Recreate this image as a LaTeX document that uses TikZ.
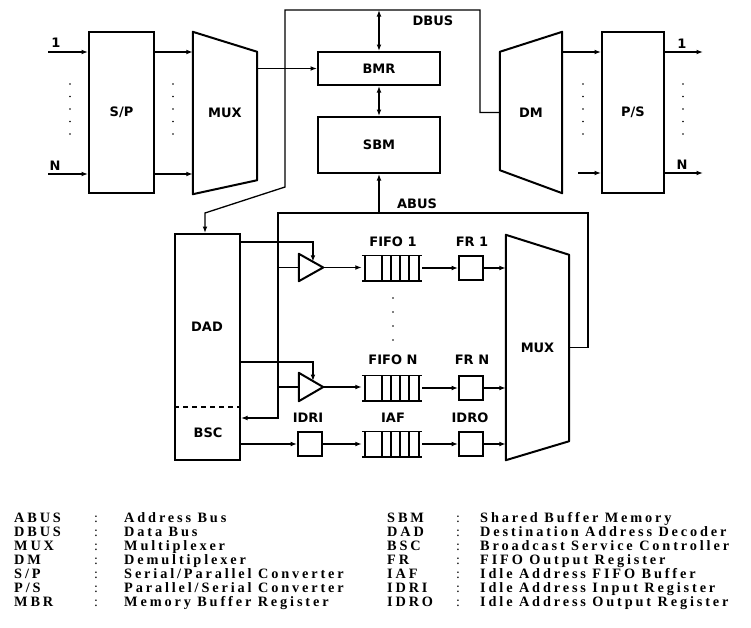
\documentclass[tikz,border=0pt]{standalone}
\usepackage{fontspec}
\setmainfont{DejaVu Sans}
\newfontfamily\lgfont[LetterSpace=20]{Liberation Serif}
\usetikzlibrary{arrows.meta,calc}

\tikzset{
  box/.style={draw, line width=2pt, inner sep=0pt, font=\fontsize{13}{13}\selectfont\bfseries},
  ghost/.style={inner sep=0pt, font=\fontsize{13}{13}\selectfont\bfseries},
  reg/.style={draw, line width=1.8pt, inner sep=0pt, minimum width=24pt, minimum height=24pt},
  lbl/.style={font=\fontsize{13}{13}\selectfont\bfseries, inner sep=1pt},
  outline/.style={line width=2pt, line join=round},
  conn/.style={line width=1.3pt},
  arr/.style={conn, -{Latex[length=6.5pt,width=4.8pt]}},
  darr/.style={conn, {Latex[length=6.5pt,width=4.8pt]}-{Latex[length=6.5pt,width=4.8pt]}},
  legend/.style={font=\lgfont\fontsize{14.3}{14.3}\selectfont\bfseries, anchor=base west, inner sep=0pt},
  colon/.style={font=\lgfont\fontsize{14}{14}\selectfont, anchor=base, inner sep=0pt},
  dotmark/.style={circle, fill, inner sep=0pt, minimum size=1.8pt},
}

\newcommand\fifodraw[1]{%
  \draw[line width=1.6pt] (#1.north west) -- (#1.north east) (#1.south west) -- (#1.south east);
  \foreach \dx in {3,20,29,38,47,57}{\draw[line width=1.6pt] ($(#1.north west)+(\dx,0)$) -- ($(#1.south west)+(\dx,0)$);}
}

\begin{document}
\begin{tikzpicture}[x=1pt,y=-1pt]
\useasboundingbox (0,0) rectangle (751,627);

% ---------- top section ----------
\node[box, minimum width=65pt, minimum height=161pt] (sp) at (121.5,112.5) {S/P};
\node[ghost, minimum width=64pt, minimum height=162pt] (mux1) at (225,113) {MUX};
\draw[outline] (mux1.north west) -- ($(mux1.north east)+(0,20)$) -- ($(mux1.south east)+(0,-14)$) -- (mux1.south west) -- cycle;
\node[box, minimum width=122pt, minimum height=33pt] (bmr) at (379,68.5) {BMR};
\node[box, minimum width=122pt, minimum height=56pt] (sbm) at (379,145) {SBM};
\node[ghost, minimum width=62pt, minimum height=161pt] (dm) at (531,112.5) {DM};
\draw[outline] ($(dm.north west)+(0,20)$) -- (dm.north east) -- (dm.south east) -- ($(dm.south west)+(0,-23)$) -- cycle;
\node[box, minimum width=62pt, minimum height=161pt] (ps) at (633,112.5) {P/S};

% inputs
\coordinate (in1) at (48,52);
\coordinate (inN) at (48,174);
\draw[arr] (in1) -- (sp.west |- in1);
\draw[arr] (inN) -- (sp.west |- inN);
\node[lbl] (lin1) at (56,43) {1};
\node[lbl] (linN) at (55,166) {N};
\draw[arr] (sp.east |- in1) -- (mux1.west |- in1);
\draw[arr] (sp.east |- inN) -- (mux1.west |- inN);
\draw[arr] (mux1.east |- bmr.west) -- (bmr.west);

% outputs
\coordinate (o1) at (703,52);
\coordinate (oN) at (703,173);
\coordinate (gapN) at (578,173);
\draw[arr] (dm.east |- o1) -- (ps.west |- o1);
\draw[arr] (gapN) -- (ps.west |- oN);
\draw[arr] (ps.east |- o1) -- (o1);
\draw[arr] (ps.east |- oN) -- (oN);
\node[lbl] (lout1) at (682,44) {1};
\node[lbl] (loutN) at (682,165) {N};

% dots
\foreach \yy [count=\k] in {84,96.5,109,121.5,134}{
  \node[dotmark] (da\k) at (70,\yy) {};
  \node[dotmark] (db\k) at (173,\yy) {};
  \node[dotmark] (dc\k) at (583,\yy) {};
  \node[dotmark] (dd\k) at (683,\yy) {};
}

% ---------- lower section ----------
\node[box, minimum width=65pt, minimum height=226pt] (dad) at (207.5,347) {};
\node[lbl] (dadlbl) at (207,327) {DAD};
\node[lbl] (bsclbl) at (208,433) {BSC};
\draw[line width=2pt, dash pattern=on 5pt off 4pt] (dad.west |- 0,407) -- (dad.east |- 0,407);

\node[ghost, minimum width=24pt, minimum height=27pt] (buf1) at (311,267.5) {};
\draw[outline] (buf1.north west) -- (buf1.east) -- (buf1.south west) -- cycle;
\node[ghost, minimum width=24pt, minimum height=28pt] (bufN) at (311,387) {};
\draw[outline] (bufN.north west) -- (bufN.east) -- (bufN.south west) -- cycle;

\node[ghost, minimum width=60pt, minimum height=25pt] (fifo1) at (392,268) {};
\node[ghost, minimum width=60pt, minimum height=25pt] (fifoN) at (392,388) {};
\node[ghost, minimum width=60pt, minimum height=25pt] (iaf) at (392,444) {};
\fifodraw{fifo1}
\fifodraw{fifoN}
\fifodraw{iaf}

\node[reg] (fr1) at (471,268) {};
\node[reg] (frN) at (471,388) {};
\node[reg] (idri) at (310,444) {};
\node[reg] (idro) at (471,444) {};

\node[ghost, minimum width=63pt, minimum height=225pt] (mux2) at (537.5,347.5) {MUX};
\draw[outline] (mux2.north west) -- ($(mux2.north east)+(0,20)$) -- ($(mux2.south east)+(0,-19)$) -- (mux2.south west) -- cycle;

% labels
\node[lbl] (fifo1lbl) at (393,242) {FIFO 1};
\node[lbl] (fr1lbl) at (472,242) {FR 1};
\node[lbl] (fifoNlbl) at (393,360) {FIFO N};
\node[lbl] (frNlbl) at (472,360) {FR N};
\node[lbl] (idrilbl) at (308,418) {IDRI};
\node[lbl] (iaflbl) at (393,418) {IAF};
\node[lbl] (idrolbl) at (470,418) {IDRO};
\node[lbl] (dbuslbl) at (433,21) {DBUS};
\node[lbl] (abuslbl) at (417,204) {ABUS};

\foreach \yy [count=\k] in {298,312,326,340}{\node[dotmark] (fd\k) at (393,\yy) {};}

% DBUS
\coordinate (db1) at (480,10);
\coordinate (db2) at (285,10);
\coordinate (db3) at (285,187);
\coordinate (db4) at (205,213);
\draw[arr] (dm.west) -- (dm.west -| db1) -- (db1) -- (db2) -- (db3) -- (db4) -- (db4 |- dad.north);
\draw[darr] (bmr.north |- db1) -- (bmr.north);
\draw[darr] (bmr.south) -- (sbm.north);

% ABUS
\coordinate (ab1) at (588,213);
\coordinate (ab2) at (278,213);
\coordinate (ab3) at (278,418);
\draw[arr] (mux2.east) -- (mux2.east -| ab1) -- (ab1) -- (ab2) -- (ab3) -- (ab3 -| dad.east);
\draw[arr] (sbm.south |- ab1) -- (sbm.south);
\draw[conn] (ab2 |- buf1.west) -- (buf1.west);
\draw[conn] (ab2 |- bufN.west) -- (bufN.west);

% DAD control lines
\coordinate (c1) at (313,242);
\coordinate (t1) at ($(buf1.north west)!0.58!(buf1.east)$);
\draw[arr] (dad.east |- c1) -- (t1 |- c1) -- (t1);
\coordinate (c2) at (314,362);
\coordinate (t2) at ($(bufN.north west)!0.58!(bufN.east)$);
\draw[arr] (dad.east |- c2) -- (t2 |- c2) -- (t2);

% data paths
\draw[arr] (buf1.east) -- (fifo1.west |- buf1.east);
\draw[arr] (fifo1.east) -- (fr1.west);
\draw[arr] (fr1.east) -- (mux2.west |- fr1.east);
\draw[arr] (bufN.east) -- (fifoN.west |- bufN.east);
\draw[arr] (fifoN.east) -- (frN.west);
\draw[arr] (frN.east) -- (mux2.west |- frN.east);
\draw[arr] (dad.east |- idri.west) -- (idri.west);
\draw[arr] (idri.east) -- (iaf.west);
\draw[arr] (iaf.east) -- (idro.west);
\draw[arr] (idro.east) -- (mux2.west |- idro.east);

% ---------- legend ----------
\node[legend] (la1) at (14,522) {ABUS}; \node[colon] (lc1) at (96,522) {:}; \node[legend] (ld1) at (124,522) {Address Bus};
\node[legend] (la2) at (14,536) {DBUS}; \node[colon] (lc2) at (96,536) {:}; \node[legend] (ld2) at (124,536) {Data Bus};
\node[legend] (la3) at (14,550) {MUX}; \node[colon] (lc3) at (96,550) {:}; \node[legend] (ld3) at (124,550) {Multiplexer};
\node[legend] (la4) at (14,564) {DM}; \node[colon] (lc4) at (96,564) {:}; \node[legend] (ld4) at (124,564) {Demultiplexer};
\node[legend] (la5) at (14,578) {S/P}; \node[colon] (lc5) at (96,578) {:}; \node[legend] (ld5) at (124,578) {Serial/Parallel Converter};
\node[legend] (la6) at (14,592) {P/S}; \node[colon] (lc6) at (96,592) {:}; \node[legend] (ld6) at (124,592) {Parallel/Serial Converter};
\node[legend] (la7) at (14,606) {MBR}; \node[colon] (lc7) at (96,606) {:}; \node[legend] (ld7) at (124,606) {Memory Buffer Register};

\node[legend] (ra1) at (387,522) {SBM}; \node[colon] (rc1) at (458,522) {:}; \node[legend] (rd1) at (480,522) {Shared Buffer Memory};
\node[legend] (ra2) at (387,536) {DAD}; \node[colon] (rc2) at (458,536) {:}; \node[legend] (rd2) at (480,536) {Destination Address Decoder};
\node[legend] (ra3) at (387,550) {BSC}; \node[colon] (rc3) at (458,550) {:}; \node[legend] (rd3) at (480,550) {Broadcast Service Controller};
\node[legend] (ra4) at (387,564) {FR}; \node[colon] (rc4) at (458,564) {:}; \node[legend] (rd4) at (480,564) {FIFO Output Register};
\node[legend] (ra5) at (387,578) {IAF}; \node[colon] (rc5) at (458,578) {:}; \node[legend] (rd5) at (480,578) {Idle Address FIFO Buffer};
\node[legend] (ra6) at (387,592) {IDRI}; \node[colon] (rc6) at (458,592) {:}; \node[legend] (rd6) at (480,592) {Idle Address Input Register};
\node[legend] (ra7) at (387,606) {IDRO}; \node[colon] (rc7) at (458,606) {:}; \node[legend] (rd7) at (480,606) {Idle Address Output Register};
\end{tikzpicture}
\end{document}
